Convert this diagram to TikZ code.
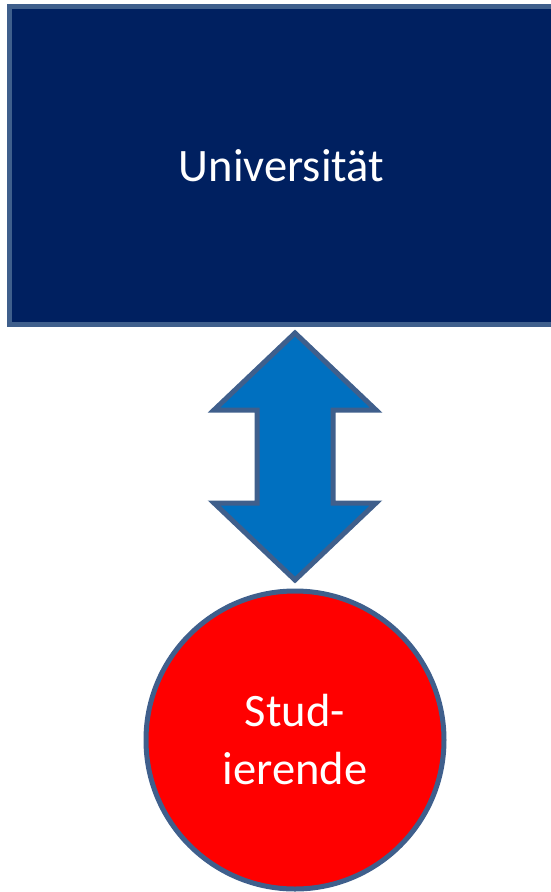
\documentclass[tikz,border=0pt]{standalone}
\usepackage{fontspec}
\setmainfont{Carlito}
\usetikzlibrary{calc}

\definecolor{unidark}{HTML}{002060}
\definecolor{shapeline}{HTML}{3F5F8C}
\definecolor{linkblue}{HTML}{0070C0}
\definecolor{studred}{HTML}{FF0000}

\begin{document}
\begin{tikzpicture}[x=1pt, y=-1pt,
    box/.style = {draw=shapeline, line width=5pt, text=white,
                  font=\fontsize{46.5}{58}\selectfont},
    link/.style = {draw=shapeline, line width=5pt, line join=miter, fill=linkblue}]
    \useasboundingbox (0,0) rectangle (551,892);

    % University block
    \node[box, rectangle, fill=unidark, minimum width=544pt, minimum height=318pt,
          anchor=north west] (uni) at (7,4) {Universität};

    % Students
    \node[box, circle, fill=studred, minimum size=298pt, align=center]
        (stud) at (295,740) {Stud-\\ierende};

    % Double arrow between them
    \coordinate (up) at ($(stud.north)+(0,-255.5)$);
    \coordinate (down) at ($(stud.north)+(0,-8.5)$);
    \draw[link] (up) -- ++(81,77) -- ++(-43,0) -- ++(0,93) -- ++(43,0) -- (down)
        -- ++(-81,-77) -- ++(43,0) -- ++(0,-93) -- ++(-43,0) -- cycle;

\end{tikzpicture}
\end{document}
